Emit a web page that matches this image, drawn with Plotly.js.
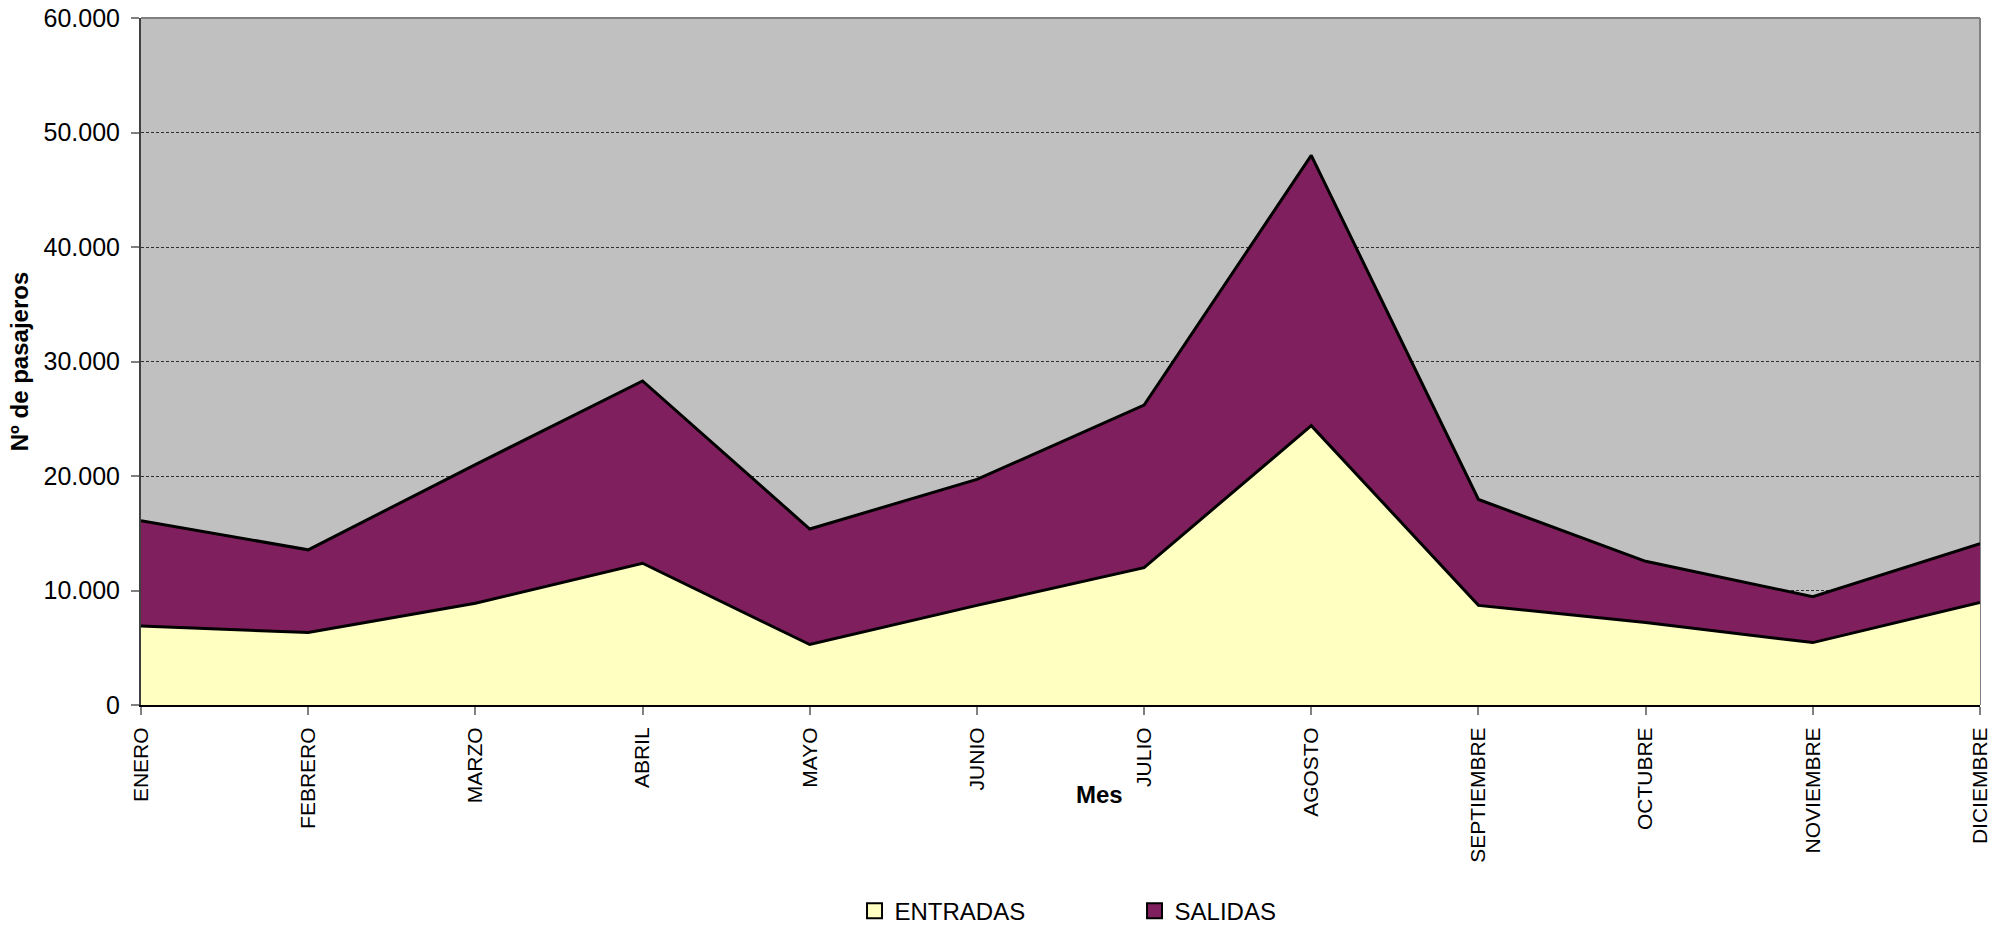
<!DOCTYPE html>
<html>
<head>
<meta charset="utf-8">
<script src="https://cdn.plot.ly/plotly-3.0.1.min.js"></script>
<style>
  body { margin: 0; background: #fff; }
  #chart { width: 2004px; height: 925px; }
</style>
</head>
<body>
<div id="chart"></div>
<script>
// months on the x axis
var meses = ["ENERO", "FEBRERO", "MARZO", "ABRIL", "MAYO", "JUNIO", "JULIO",
             "AGOSTO", "SEPTIEMBRE", "OCTUBRE", "NOVIEMBRE", "DICIEMBRE"];

// passengers per month
var entradas = [6900, 6330, 8880, 12380, 5280, 8700, 12000, 24400, 8700, 7200, 5450, 8950];
var salidas = [9200, 7220, 12120, 15920, 10090, 11000, 14200, 23600, 9250, 5350, 4010, 5150];

var yTicks = [0, 10000, 20000, 30000, 40000, 50000, 60000];

var colorEntradas = "#FFFFC2";
var colorSalidas = "#801F5E";
var fontFam = "'Liberation Sans', Arial, sans-serif";

// stacked areas
var traceEntradas = {
    x: meses,
    y: entradas,
    name: "ENTRADAS",
    type: "scatter",
    mode: "lines",
    stackgroup: "one",
    fillcolor: colorEntradas,
    line: { color: "#000", width: 3 },
    showlegend: false
};
var traceSalidas = {
    x: meses,
    y: salidas,
    name: "SALIDAS",
    type: "scatter",
    mode: "lines",
    stackgroup: "one",
    fillcolor: colorSalidas,
    line: { color: "#000", width: 3 },
    showlegend: false
};

// legend entries as square boxes
var legEntradas = {
    x: [null], y: [null], name: "ENTRADAS", type: "scatter", mode: "markers",
    marker: { symbol: "square", size: 15, color: colorEntradas, line: { color: "#000", width: 2 } }
};
var legSalidas = {
    x: [null], y: [null], name: "SALIDAS", type: "scatter", mode: "markers",
    marker: { symbol: "square", size: 15, color: colorSalidas, line: { color: "#000", width: 2 } }
};

var data = [traceEntradas, traceSalidas, legEntradas, legSalidas];

var layout = {
    width: 2004,
    height: 925,
    margin: { l: 141, r: 24, t: 18, b: 220, autoexpand: false },
    paper_bgcolor: "#fff",
    plot_bgcolor: "#C0C0C0",
    font: { family: fontFam, size: 22, color: "#000" },
    showlegend: true,
    legend: {
        orientation: "h",
        traceorder: "normal",
        x: 0.388, xanchor: "left",
        y: -0.30, yanchor: "middle",
        itemwidth: 30,
        entrywidth: 235, entrywidthmode: "pixels",
        font: { family: fontFam, size: 24, color: "#000" },
        bgcolor: "rgba(0,0,0,0)"
    },
    xaxis: {
        type: "category",
        range: [0, 11],
        tickangle: -90,
        tickfont: { family: fontFam, size: 21 },
        ticks: "outside", ticklen: 8, tickcolor: "#808080", tickwidth: 2,
        ticklabelstandoff: 4,
        showgrid: false,
        showline: true, linecolor: "#000", linewidth: 2,
        automargin: false,
        fixedrange: true
    },
    yaxis: {
        range: [0, 60000],
        tickvals: yTicks,
        tickformat: ",d",
        tickfont: { family: fontFam, size: 25 },
        ticks: "outside", ticklen: 8, tickcolor: "#808080", tickwidth: 2,
        ticklabelstandoff: 6,
        showgrid: true, gridcolor: "#303030", gridwidth: 1, griddash: "3px,2px",
        zeroline: false,
        showline: true, linecolor: "#404040", linewidth: 2,
        title: { text: "<b>Nº de pasajeros</b>", font: { family: fontFam, size: 24 }, standoff: 8 },
        automargin: false,
        fixedrange: true
    },
    separators: ",.",
    shapes: [
        // grey frame on top and right of the plot area
        { type: "line", xref: "paper", yref: "paper", x0: 0, x1: 1, y0: 1, y1: 1,
          line: { color: "#808080", width: 2 } },
        { type: "line", xref: "paper", yref: "paper", x0: 1, x1: 1, y0: 0, y1: 1,
          line: { color: "#808080", width: 2 }, layer: "below" }
    ],
    annotations: [
        { text: "<b>Mes</b>", xref: "paper", yref: "paper", x: 0.521, y: -0.131,
          xanchor: "center", yanchor: "middle", showarrow: false,
          font: { family: fontFam, size: 24, color: "#000" } }
    ]
};

Plotly.newPlot("chart", data, layout, { displayModeBar: false, staticPlot: true });
</script>
</body>
</html>
